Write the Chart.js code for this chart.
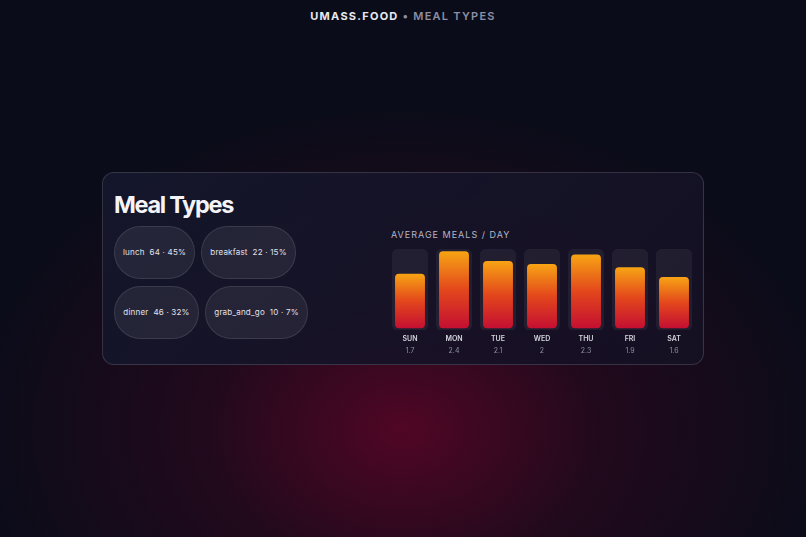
<!DOCTYPE html>
<html>
<head>
<meta charset="utf-8">
<script src="https://cdn.jsdelivr.net/npm/chart.js@4.4.1/dist/chart.umd.min.js"></script>
<style>
  html, body { margin: 0; padding: 0; }
  body {
    width: 806px; height: 537px; overflow: hidden; position: relative;
    font-family: Inter, "Noto Sans", sans-serif;
    background:
      radial-gradient(ellipse 440px 330px at 403px 430px, rgba(84,6,38,0.95) 0%, rgba(48,8,30,0.6) 45%, rgba(10,12,24,0) 100%),
      #0a0c19;
  }
  .top {
    position: absolute; top: 9px; left: 0; width: 806px; text-align: center;
    font-size: 11px; font-weight: 700; letter-spacing: 1.25px; color: #e8e8f0;
  }
  .top span { color: #8d8fa3; font-weight: 600; }
  .card {
    position: absolute; left: 102px; top: 172px; width: 602px; height: 193px;
    border: 1px solid rgba(255,255,255,0.14); border-radius: 12px;
    background: linear-gradient(135deg, rgba(21,24,44,0.92), rgba(22,16,36,0.9));
    box-sizing: border-box;
  }
  h1 {
    position: absolute; left: 11px; top: 17px; margin: 0;
    font-size: 23.5px; font-weight: 700; color: #f4f4f8; letter-spacing: -1.3px;
  }
  .pill {
    position: absolute; height: 53px; border-radius: 27px; box-sizing: border-box;
    background: rgba(255,255,255,0.07); border: 1px solid rgba(255,255,255,0.10);
    color: #e2e2ea; font-size: 8px; letter-spacing: 0.2px; line-height: 51px; text-align: center; white-space: pre;
  }
  .lbl {
    position: absolute; left: 288px; top: 56px; font-size: 9px; letter-spacing: 1px; color: #b4b6c6;
  }
  .wrap { position: absolute; left: 285px; top: 76px; width: 308px; height: 113px; }
</style>
</head>
<body>
<div class="top">UMASS.FOOD <span>• MEAL TYPES</span></div>
<div class="card">
  <h1>Meal Types</h1>
  <div id="pills"></div>
  <div class="lbl">AVERAGE MEALS / DAY</div>
  <div class="wrap"><canvas id="bars"></canvas></div>
</div>
<script>
const mealNames = ['lunch', 'breakfast', 'dinner', 'grab_and_go'];
const mealCounts = [64, 22, 46, 10];
const mealShares = [45, 15, 32, 7];

const days = ['SUN', 'MON', 'TUE', 'WED', 'THU', 'FRI', 'SAT'];
const avgMeals = [1.7, 2.4, 2.1, 2, 2.3, 1.9, 1.6];

// pill boxes
const pillBox = [[11, 53, 81], [98, 53, 95], [11, 113, 85], [102, 113, 103]];
const pills = document.getElementById('pills');
mealNames.forEach((n, i) => {
  const d = document.createElement('div');
  d.className = 'pill';
  d.style.left = pillBox[i][0] + 'px';
  d.style.top = pillBox[i][1] + 'px';
  d.style.width = pillBox[i][2] + 'px';
  d.textContent = n + '  ' + mealCounts[i] + ' · ' + mealShares[i] + '%';
  pills.appendChild(d);
});

const maxMeal = Math.max(...avgMeals);
const pad = 0.07;
const track = avgMeals.map(() => [-pad, maxMeal + pad]);

// values under the day names
const valueLabels = {
  id: 'valueLabels',
  afterDraw(chart) {
    const ctx = chart.ctx, x = chart.scales.x;
    ctx.save();
    ctx.font = '7px Inter, "Noto Sans", sans-serif';
    ctx.fillStyle = '#8e90a2';
    ctx.textAlign = 'center';
    ctx.textBaseline = 'middle';
    avgMeals.forEach((v, i) => {
      ctx.fillText(String(v), x.getPixelForValue(i), chart.chartArea.bottom + 20);
    });
    ctx.restore();
  }
};

new Chart(document.getElementById('bars'), {
  type: 'bar',
  data: {
    labels: days,
    datasets: [
      {
        data: avgMeals,
        order: 0,
        barPercentage: 0.68,
        categoryPercentage: 1,
        borderRadius: 4,
        borderSkipped: false,
        backgroundColor(c) {
          const ch = c.chart;
          if (!ch.chartArea || c.parsed === undefined) return '#e8620f';
          const y = ch.scales.y;
          const y0 = y.getPixelForValue(c.parsed.y), y1 = y.getPixelForValue(0);
          const g = ch.ctx.createLinearGradient(0, y0, 0, y1);
          g.addColorStop(0, '#f7a414');
          g.addColorStop(0.5, '#e3471c');
          g.addColorStop(1, '#c40f32');
          return g;
        }
      },
      {
        data: track,
        order: 1,
        barPercentage: 0.82,
        categoryPercentage: 1,
        borderRadius: 5,
        borderSkipped: false,
        backgroundColor: 'rgba(255,255,255,0.055)',
        borderColor: 'rgba(255,255,255,0.06)',
        borderWidth: 1
      }
    ]
  },
  options: {
    responsive: true,
    maintainAspectRatio: false,
    animation: false,
    layout: { padding: { top: 0, bottom: 15, left: 0, right: 0 } },
    plugins: { legend: { display: false }, tooltip: { enabled: false } },
    datasets: { bar: { grouped: false } },
    scales: {
      x: {
        grid: { display: false, drawTicks: false },
        border: { display: false },
        ticks: {
          color: '#d4d5de',
          padding: 4,
          maxRotation: 0,
          minRotation: 0,
          autoSkip: false,
          font: { family: 'Inter, "Noto Sans", sans-serif', size: 7, weight: '600' }
        }
      },
      y: { display: false, min: -pad, max: maxMeal + pad }
    }
  },
  plugins: [valueLabels]
});
</script>
</body>
</html>
